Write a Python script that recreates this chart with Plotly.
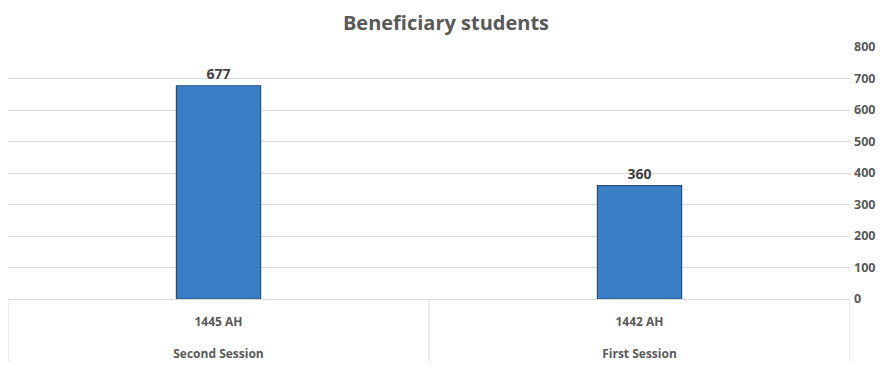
import plotly.graph_objects as go

sessions = ["Second Session", "First Session"]
years = ["1445 AH", "1442 AH"]
students = [677, 360]
y_ticks = [0, 100, 200, 300, 400, 500, 600, 700, 800]

tick_text = [f"{yr}<br><br>{s}" for yr, s in zip(years, sessions)]

fig = go.Figure()
fig.add_trace(go.Bar(
    x=years,
    y=students,
    width=0.2,
    marker=dict(color="#3A7EC6", line=dict(color="#24507F", width=1.2)),
    text=[str(v) for v in students],
    textposition="outside",
    textfont=dict(family="Open Sans", size=14, color="#404040", weight="bold"),
    cliponaxis=False,
))

# category dividers (table lines below the axis)
for xpos in [-0.5, 0.5, 1.5]:
    fig.add_shape(type="line", xref="x", yref="paper",
                  x0=xpos, x1=xpos, y0=0, y1=-0.25,
                  line=dict(color="#D9D9D9", width=1))

fig.update_layout(
    width=892, height=368,
    margin=dict(l=0, r=50, t=39, b=77),
    paper_bgcolor="white", plot_bgcolor="white",
    title=dict(text="<b>Beneficiary students</b>", x=0.491, xanchor="center",
               xref="container", y=0.958, yanchor="middle",
               font=dict(family="Open Sans", size=20, color="#595959")),
    showlegend=False,
)
fig.update_xaxes(
    type="category", range=[-0.5, 1.5],
    tickvals=years, ticktext=tick_text,
    showline=True, linecolor="#D9D9D9", linewidth=1,
    tickfont=dict(family="Open Sans", size=12, color="#595959", weight="bold"),
    ticks="", ticklabelstandoff=12,
)
fig.update_yaxes(
    side="right", range=[0, 800], tickvals=y_ticks,
    showgrid=True, gridcolor="#D9D9D9", gridwidth=1,
    zeroline=False, showline=False,
    tickfont=dict(family="Open Sans", size=12.5, color="#595959", weight="bold"),
    ticklabelstandoff=3,
)

fig.write_html("out.html")
